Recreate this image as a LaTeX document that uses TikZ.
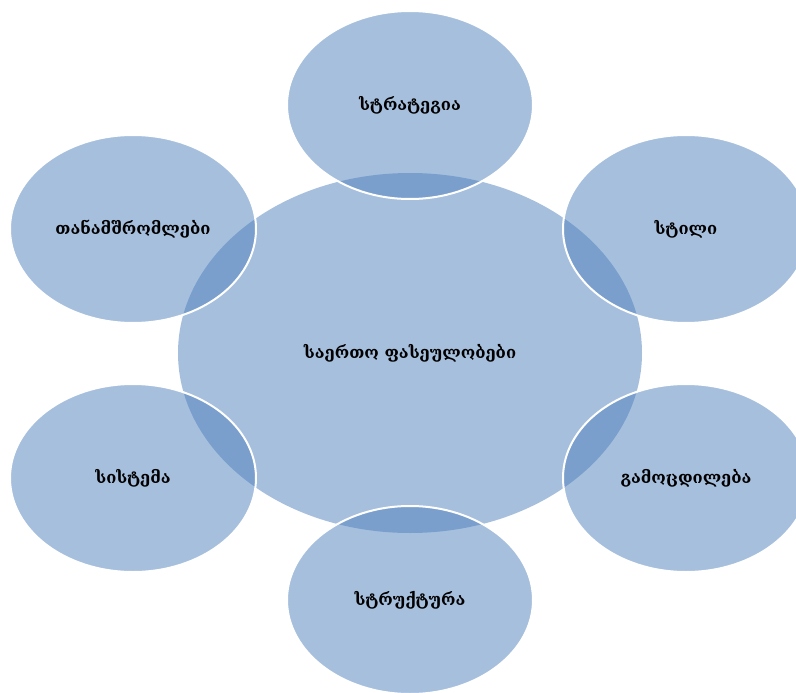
\documentclass[tikz,border=0pt]{standalone}
\usepackage{fontspec}
\setmainfont{DejaVu Serif}
\usetikzlibrary{shapes.geometric}
\definecolor{baseblue}{RGB}{79,129,189}
\tikzset{
  blob/.style={ellipse, inner sep=0pt, fill=baseblue, fill opacity=0.5, text opacity=1, font=\bfseries\fontsize{16.5}{19}\selectfont, text=black},
  sat/.style={blob, draw=white, draw opacity=1, line width=2pt, minimum width=246pt, minimum height=188pt},
  hub/.style={blob, minimum width=464pt, minimum height=360pt}
}
\begin{document}
\begin{tikzpicture}[x=1pt,y=-1pt]
\useasboundingbox[fill=white] (0,0) rectangle (796,693);
\node[hub] (c) at (410,353) {საერთო ფასეულობები};
\node[sat] (t) at (410,105) {სტრატეგია};
\node[sat] (tl) at (133,229) {თანამშრომლები};
\node[sat] (tr) at (686,229) {სტილი};
\node[sat] (bl) at (133,478) {სისტემა};
\node[sat] (br) at (686,478) {გამოცდილება};
\node[sat] (b) at (410,600) {სტრუქტურა};
\end{tikzpicture}
\end{document}
